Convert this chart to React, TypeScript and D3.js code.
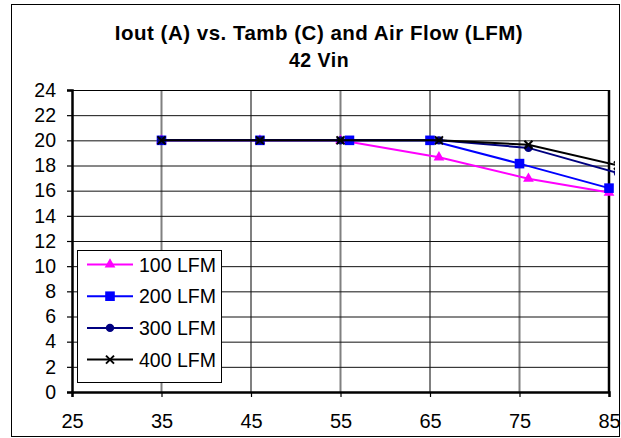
import React, {useEffect, useRef} from 'react';
import * as d3 from 'd3';

// readings, Iout (A) against ambient temperature (C)
const seriesNames = ['100 LFM', '200 LFM', '300 LFM', '400 LFM'];
const temps100 = [35, 46, 55, 66, 76, 85];
const iout100 = [20, 20, 20, 18.65, 16.95, 15.85];
const temps200 = [35, 46, 56, 65, 75, 85];
const iout200 = [20, 20, 20, 20, 18.15, 16.2];
const temps300 = [35, 46, 55, 66, 76, 86];
const iout300 = [20, 20, 20, 20, 19.4, 17.4];
const temps400 = [35, 46, 55, 66, 76, 86];
const iout400 = [20, 20, 20, 20, 19.65, 18.0];
const xTicks = [25, 35, 45, 55, 65, 75, 85];
const yTicks = [0, 2, 4, 6, 8, 10, 12, 14, 16, 18, 20, 22, 24];

const colors = ['#ff00ff', '#0000ff', '#000080', '#000000'];
const markers = ['triangle', 'square', 'circle', 'cross'];
const FONT = '"Liberation Sans", Arial, sans-serif';

const App = () => {
    const ref = useRef<SVGSVGElement>(null);

    useEffect(() => {
        const width = 621;
        const height = 438;
        const margin = {top: 90, left: 72, bottom: 46, right: 12};
        const svg = d3.select(ref.current);
        svg.selectAll('*').remove();
        svg.attr('width', width).attr('height', height);

        const x = d3.scaleLinear().domain([25, 85]).range([margin.left, width - margin.right]);
        const y = d3.scaleLinear().domain([0, 24]).range([height - margin.bottom, margin.top]);

        svg.append('rect')
            .attr('x', 11.5).attr('y', 4.5)
            .attr('width', 608).attr('height', 432)
            .attr('fill', 'white').attr('stroke', 'black').attr('stroke-width', 1);

        // title
        const title = svg.append('text')
            .attr('text-anchor', 'middle')
            .attr('font-family', FONT)
            .attr('font-weight', 'bold')
            .attr('font-size', 20.5)
            .attr('letter-spacing', 0.5);
        title.append('tspan').attr('x', 319).attr('y', 40).text('Iout (A) vs. Tamb (C) and Air Flow (LFM)');
        title.append('tspan').attr('x', 319).attr('y', 67).attr('font-size', 19.5).text('42 Vin');

        // grid
        svg.append('g').selectAll('line').data(xTicks.slice(1, -1)).enter().append('line')
            .attr('x1', d => x(d)).attr('x2', d => x(d))
            .attr('y1', y(24)).attr('y2', y(0))
            .attr('stroke', '#808080').attr('stroke-width', 2);
        svg.append('g').selectAll('line').data(yTicks.slice(1, -1)).enter().append('line')
            .attr('x1', x(25)).attr('x2', x(85))
            .attr('y1', d => y(d) + 0.5).attr('y2', d => y(d) + 0.5)
            .attr('stroke', '#111').attr('stroke-width', 1);

        // frame
        svg.append('line').attr('x1', x(25)).attr('x2', x(85)).attr('y1', y(24) + 0.5).attr('y2', y(24) + 0.5)
            .attr('stroke', 'black').attr('stroke-width', 1);
        svg.append('line').attr('x1', x(85)).attr('x2', x(85)).attr('y1', y(24)).attr('y2', y(0))
            .attr('stroke', 'black').attr('stroke-width', 2.5);

        // axes
        const yAxis = svg.append('g')
            .attr('transform', `translate(${x(25)},0)`)
            .call(d3.axisLeft(y).tickValues(yTicks).tickSize(5).tickPadding(11));
        const xAxis = svg.append('g')
            .attr('transform', `translate(0,${y(0)})`)
            .call(d3.axisBottom(x).tickValues(xTicks).tickSize(5).tickPadding(17));
        [yAxis, xAxis].forEach(a => {
            a.select('.domain').attr('stroke', 'black').attr('stroke-width', 2.5);
            a.selectAll('.tick line').attr('stroke', 'black').attr('stroke-width', 1.2);
            a.selectAll('text').attr('font-family', FONT).attr('fill', 'black');
        });
        yAxis.selectAll('text').attr('font-size', 19.5);
        xAxis.selectAll('text').attr('font-size', 20);

        // series
        const allX = [temps100, temps200, temps300, temps400];
        const allY = [iout100, iout200, iout300, iout400];
        const series = seriesNames.map((name, i) => ({
            name,
            color: colors[i],
            marker: markers[i],
            points: allX[i].map((t, j) => [t, allY[i][j]] as [number, number]),
        }));

        svg.append('clipPath').attr('id', 'clip')
            .append('rect').attr('x', 0).attr('y', 0).attr('width', 615).attr('height', height);

        const drawMarker = (g, marker, color, cx, cy) => {
            if (marker === 'triangle') {
                g.append('path').attr('d', d3.symbol(d3.symbolTriangle, 50)())
                    .attr('transform', `translate(${cx},${cy})`).attr('fill', color);
            } else if (marker === 'square') {
                g.append('rect').attr('x', cx - 4.8).attr('y', cy - 4.8)
                    .attr('width', 9.6).attr('height', 9.6).attr('fill', color);
            } else if (marker === 'circle') {
                g.append('circle').attr('cx', cx).attr('cy', cy).attr('r', 4.2).attr('fill', color);
            } else {
                g.append('path')
                    .attr('d', `M${cx - 4},${cy - 4}L${cx + 4},${cy + 4}M${cx - 4},${cy + 4}L${cx + 4},${cy - 4}`)
                    .attr('stroke', color).attr('stroke-width', 2).attr('fill', 'none');
            }
        };

        const line = d3.line<[number, number]>().x(d => x(d[0])).y(d => y(d[1]));
        const plot = svg.append('g').attr('clip-path', 'url(#clip)');
        series.forEach(s => {
            plot.append('path').datum(s.points)
                .attr('d', line).attr('fill', 'none')
                .attr('stroke', s.color).attr('stroke-width', 2);
            s.points.forEach(p => drawMarker(plot, s.marker, s.color, x(p[0]), y(p[1])));
        });

        // legend
        const legend = svg.append('g');
        legend.append('rect').attr('x', 77.5).attr('y', 250.5).attr('width', 144).attr('height', 132)
            .attr('fill', 'white').attr('stroke', 'black').attr('stroke-width', 1);
        series.forEach((s, i) => {
            const ly = 264.5 + i * 31.7;
            legend.append('line').attr('x1', 87).attr('x2', 133).attr('y1', ly).attr('y2', ly)
                .attr('stroke', s.color).attr('stroke-width', 2);
            drawMarker(legend, s.marker, s.color, 110, ly);
            legend.append('text').attr('x', 139).attr('y', ly + 7)
                .attr('font-family', FONT).attr('font-size', 19.5).text(s.name);
        });
    }, []);

    return (
        <div>
            <svg ref={ref} style={{position: 'absolute', left: 0, top: 0}}/>
        </div>
    );
};

export default App;
